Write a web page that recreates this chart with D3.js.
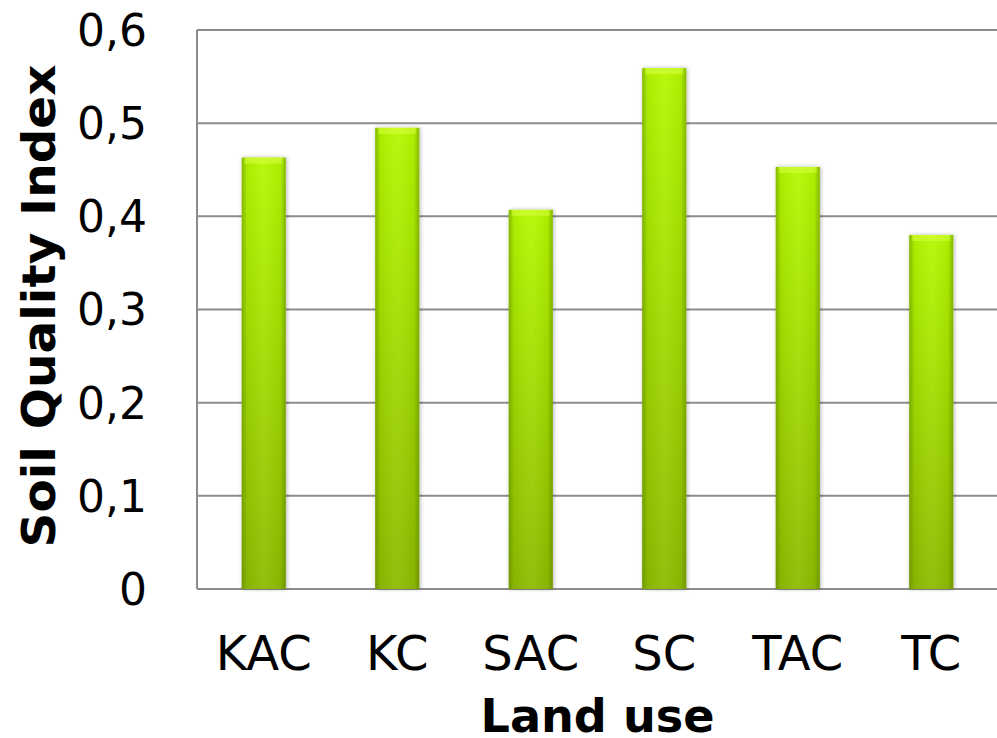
<html>
<head>
<script src="https://d3js.org/d3.v7.min.js"></script>
<style>
  body { margin: 0; background: #fff; }
  text { font-family: "DejaVu Sans", Verdana, sans-serif; }
</style>
</head>
<body>
<script>
// data
let landUse = ["KAC", "KC", "SAC", "SC", "TAC", "TC"];
let sqi = [0.463, 0.495, 0.407, 0.559, 0.453, 0.380];
let yTicks = [0, 0.1, 0.2, 0.3, 0.4, 0.5, 0.6];

var svg = d3.select("body").append("svg").attr("width", 997).attr("height", 738);
let margin = {"top": 30, "right": -1, "bottom": 149, "left": 197};
let chartWidth = 997 - margin.left - margin.right;
let chartHeight = 738 - margin.top - margin.bottom;

let defs = svg.append("defs");
let vgrad = defs.append("linearGradient").attr("id", "barV").attr("x1", 0).attr("y1", 0).attr("x2", 0).attr("y2", 1);
vgrad.append("stop").attr("offset", "0%").attr("stop-color", "#b4f804");
vgrad.append("stop").attr("offset", "100%").attr("stop-color", "#8cba00");
let hgrad = defs.append("linearGradient").attr("id", "barH").attr("x1", 0).attr("y1", 0).attr("x2", 1).attr("y2", 0);
hgrad.append("stop").attr("offset", "0%").attr("stop-color", "#4d6a00").attr("stop-opacity", 0.45);
hgrad.append("stop").attr("offset", "12%").attr("stop-color", "#4d6a00").attr("stop-opacity", 0.08);
hgrad.append("stop").attr("offset", "50%").attr("stop-color", "#ffffff").attr("stop-opacity", 0.06);
hgrad.append("stop").attr("offset", "88%").attr("stop-color", "#4d6a00").attr("stop-opacity", 0.08);
hgrad.append("stop").attr("offset", "100%").attr("stop-color", "#4d6a00").attr("stop-opacity", 0.45);
let shadow = defs.append("filter").attr("id", "shadow").attr("x", "-30%").attr("y", "-10%").attr("width", "160%").attr("height", "120%");
shadow.append("feGaussianBlur").attr("in", "SourceAlpha").attr("stdDeviation", 2);
shadow.append("feOffset").attr("dx", 1).attr("dy", 0).attr("result", "b");
shadow.append("feComponentTransfer").append("feFuncA").attr("type", "linear").attr("slope", 0.3);
let merge = shadow.append("feMerge");
merge.append("feMergeNode");
merge.append("feMergeNode").attr("in", "SourceGraphic");

let chartArea = svg.append("g").attr("transform", "translate(" + margin.left + "," + margin.top + ")");

let xScale = d3.scaleBand().domain(landUse).range([0, chartWidth]).padding(0);
let yScale = d3.scaleLinear().domain([0, 0.6]).range([chartHeight, 0]);

// gridlines
chartArea.selectAll("line.grid").data(yTicks).enter().append("line")
    .attr("class", "grid")
    .attr("x1", 0).attr("x2", chartWidth)
    .attr("y1", d => yScale(d)).attr("y2", d => yScale(d))
    .attr("stroke", "#8c8c8c").attr("stroke-width", 2);
chartArea.append("line")
    .attr("x1", 0).attr("x2", 0).attr("y1", yScale(0.6)).attr("y2", yScale(0))
    .attr("stroke", "#8c8c8c").attr("stroke-width", 2);

// bars
let barW = xScale.bandwidth() * 0.33;
let bars = chartArea.selectAll("g.bar").data(landUse).enter().append("g").attr("class", "bar");
bars.append("rect")
    .attr("x", (d, i) => xScale(d) + xScale.bandwidth() / 2 - barW / 2)
    .attr("y", (d, i) => yScale(sqi[i]))
    .attr("width", barW)
    .attr("height", (d, i) => yScale(0) - yScale(sqi[i]))
    .attr("fill", "url(#barV)")
    .attr("filter", "url(#shadow)");
bars.append("rect")
    .attr("x", (d, i) => xScale(d) + xScale.bandwidth() / 2 - barW / 2)
    .attr("y", (d, i) => yScale(sqi[i]))
    .attr("width", barW)
    .attr("height", (d, i) => yScale(0) - yScale(sqi[i]))
    .attr("fill", "url(#barH)");
// light bevel at the top of each bar
bars.append("rect")
    .attr("x", (d, i) => xScale(d) + xScale.bandwidth() / 2 - barW / 2 + 3)
    .attr("y", (d, i) => yScale(sqi[i]))
    .attr("width", barW - 6)
    .attr("height", 6)
    .attr("fill", "#d8ff40").attr("opacity", 0.55);

// y tick labels
let fmt = d => d === 0 ? "0" : d.toFixed(1).replace(".", ",");
chartArea.selectAll("text.ytick").data(yTicks).enter().append("text")
    .attr("class", "ytick")
    .attr("x", -50).attr("y", d => yScale(d))
    .attr("dy", "0.36em")
    .attr("text-anchor", "end")
    .attr("font-size", 44)
    .attr("fill", "#000")
    .text(fmt);

// x tick labels
chartArea.selectAll("text.xtick").data(landUse).enter().append("text")
    .attr("class", "xtick")
    .attr("x", d => xScale(d) + xScale.bandwidth() / 2)
    .attr("y", chartHeight + 81)
    .attr("text-anchor", "middle")
    .attr("font-size", 48)
    .attr("fill", "#000")
    .text(d => d);

// axis titles
svg.append("text")
    .attr("x", margin.left + chartWidth / 2).attr("y", 732)
    .attr("text-anchor", "middle")
    .attr("font-size", 46).attr("font-weight", "bold")
    .attr("textLength", 234).attr("lengthAdjust", "spacingAndGlyphs")
    .text("Land use");
svg.append("text")
    .attr("transform", "translate(55,306) rotate(-90)")
    .attr("text-anchor", "middle")
    .attr("font-size", 46).attr("font-weight", "bold")
    .attr("textLength", 483).attr("lengthAdjust", "spacingAndGlyphs")
    .text("Soil Quality Index");
</script>
</body>
</html>
